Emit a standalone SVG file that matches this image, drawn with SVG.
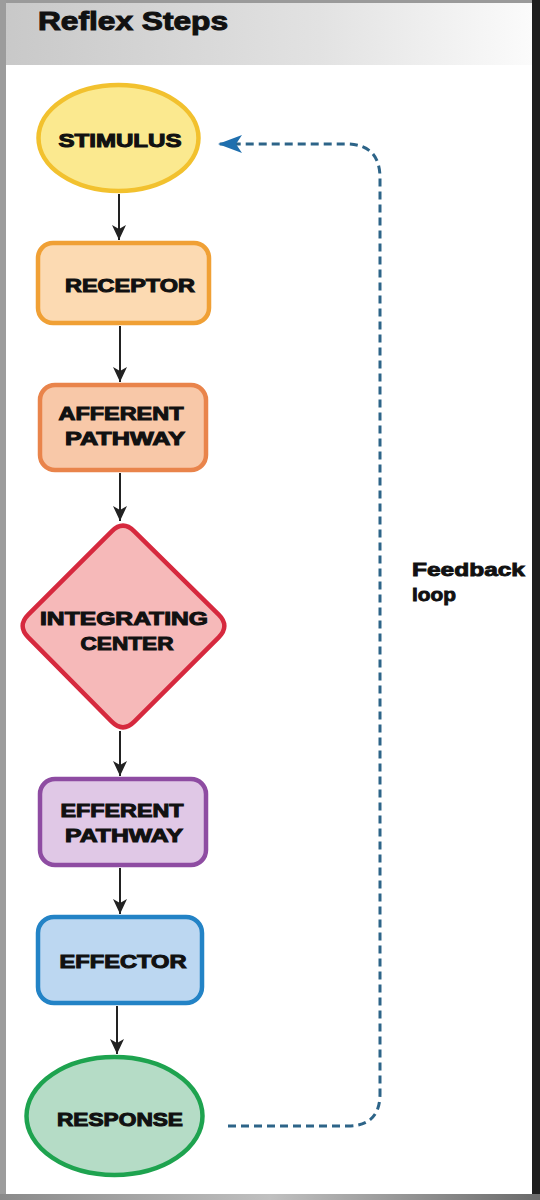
<svg xmlns="http://www.w3.org/2000/svg" width="540" height="1200" viewBox="0 0 540 1200">
<style>
.lbl{font-family:"Liberation Sans",Arial,sans-serif;font-weight:bold;font-size:18px;fill:#111;stroke:#111;stroke-width:1px;text-anchor:middle;}
.conn{stroke:#222;stroke-width:2;fill:none;}
.fb{stroke:#2d6488;stroke-width:3;fill:none;stroke-dasharray:8 5;}
.node{stroke-width:4.5;}
</style>
<defs>
<linearGradient id="hdr" x1="0" y1="0" x2="1" y2="0">
<stop offset="0" stop-color="#c8c8c8"/>
<stop offset="0.6" stop-color="#e2e2e2"/>
<stop offset="1" stop-color="#fbfbfb"/>
</linearGradient>
<linearGradient id="bot" x1="0" y1="0" x2="1" y2="0">
<stop offset="0" stop-color="#8a8a8a"/>
<stop offset="0.5" stop-color="#c0c0c0"/>
<stop offset="1" stop-color="#6a6a6a"/>
</linearGradient>
<marker id="ah" markerUnits="userSpaceOnUse" markerWidth="16" markerHeight="16" refX="15" refY="8" orient="auto">
<path d="M0,1 L15,8 L0,15 L4,8 Z" fill="#222"/>
</marker>
<marker id="bh" markerUnits="userSpaceOnUse" markerWidth="26" markerHeight="20" refX="24" refY="10" orient="auto">
<path d="M0,1 L24,10 L0,19 L6,10 Z" fill="#1f6fae"/>
</marker>
</defs>
<rect x="0" y="0" width="540" height="1200" fill="#ffffff"/>
<rect x="0" y="0" width="532" height="65" fill="url(#hdr)"/>
<rect x="0" y="0" width="532" height="3" fill="#9a9a9a"/>
<rect x="0" y="0" width="6" height="1200" fill="#9c9c9c"/>
<rect x="532" y="0" width="8" height="1200" fill="#1e1e1e"/>
<rect x="0" y="1194" width="540" height="6" fill="url(#bot)"/>
<text x="38" y="30" font-family="'Liberation Sans',Arial,sans-serif" font-weight="bold" font-size="25" fill="#111" stroke="#111" stroke-width="1" textLength="190" lengthAdjust="spacingAndGlyphs">Reflex Steps</text>

<g id="connectors">
<line class="conn" x1="119" y1="194" x2="119" y2="240" marker-end="url(#ah)"/>
<line class="conn" x1="120" y1="326" x2="120" y2="382" marker-end="url(#ah)"/>
<line class="conn" x1="120" y1="473" x2="120" y2="521" marker-end="url(#ah)"/>
<line class="conn" x1="120" y1="731" x2="120" y2="776" marker-end="url(#ah)"/>
<line class="conn" x1="120" y1="868" x2="120" y2="914" marker-end="url(#ah)"/>
<line class="conn" x1="117" y1="1006" x2="117" y2="1054" marker-end="url(#ah)"/>
<path class="fb" d="M228,1126 L348,1126 Q380,1126 380,1094 L380,178 Q380,144 346,144 L218,144" marker-end="url(#bh)"/>
<text x="412" y="576" font-family="'Liberation Sans',Arial,sans-serif" font-weight="bold" font-size="19" fill="#111" stroke="#111" stroke-width="0.9" textLength="113" lengthAdjust="spacingAndGlyphs">Feedback</text>
<text x="412" y="601" font-family="'Liberation Sans',Arial,sans-serif" font-weight="bold" font-size="19" fill="#111" stroke="#111" stroke-width="0.9" textLength="44" lengthAdjust="spacingAndGlyphs">loop</text>
</g>

<g id="stimulus">
<ellipse class="node" cx="118.5" cy="138" rx="80" ry="53" fill="#fbe98f" stroke="#f2c12e"/>
<text class="lbl" x="120" y="147" textLength="123" lengthAdjust="spacingAndGlyphs">STIMULUS</text>
</g>

<g id="receptor">
<rect class="node" x="38" y="243" width="171" height="80" rx="15" fill="#fcdab2" stroke="#f0a035"/>
<text class="lbl" x="130" y="292" textLength="130" lengthAdjust="spacingAndGlyphs">RECEPTOR</text>
</g>

<g id="afferent">
<rect class="node" x="40" y="385" width="166" height="85" rx="15" fill="#f8c8a8" stroke="#e9844b"/>
<text class="lbl" x="121" y="420" textLength="125" lengthAdjust="spacingAndGlyphs">AFFERENT</text>
<text class="lbl" x="125" y="445" textLength="120" lengthAdjust="spacingAndGlyphs">PATHWAY</text>
</g>

<g id="integrating">
<path class="node" d="M134.3,531.3 L218.7,614.7 Q230,626 218.7,637.3 L134.3,721.7 Q123,733 111.7,721.7 L28.3,637.3 Q17,626 28.3,614.7 L111.7,531.3 Q123,520 134.3,531.3 Z" fill="#f6b9b9" stroke="#d6293e" stroke-linejoin="round"/>
<text class="lbl" x="124" y="625" font-size="19" textLength="168" lengthAdjust="spacingAndGlyphs">INTEGRATING</text>
<text class="lbl" x="127" y="650" font-size="19" textLength="93" lengthAdjust="spacingAndGlyphs">CENTER</text>
</g>

<g id="efferent">
<rect class="node" x="40" y="779" width="166" height="86" rx="15" fill="#e0c8e6" stroke="#8e4ca2"/>
<text class="lbl" x="122" y="817" textLength="123" lengthAdjust="spacingAndGlyphs">EFFERENT</text>
<text class="lbl" x="124" y="842" textLength="118" lengthAdjust="spacingAndGlyphs">PATHWAY</text>
</g>

<g id="effector">
<rect class="node" x="38" y="917" width="164" height="86" rx="16" fill="#bcd7f1" stroke="#2383c6"/>
<text class="lbl" x="123" y="968" textLength="127" lengthAdjust="spacingAndGlyphs">EFFECTOR</text>
</g>

<g id="response">
<ellipse class="node" cx="114.5" cy="1116" rx="88" ry="59" fill="#b5dcc6" stroke="#1ea34f"/>
<text class="lbl" x="120" y="1126" textLength="126" lengthAdjust="spacingAndGlyphs">RESPONSE</text>
</g>
</svg>
